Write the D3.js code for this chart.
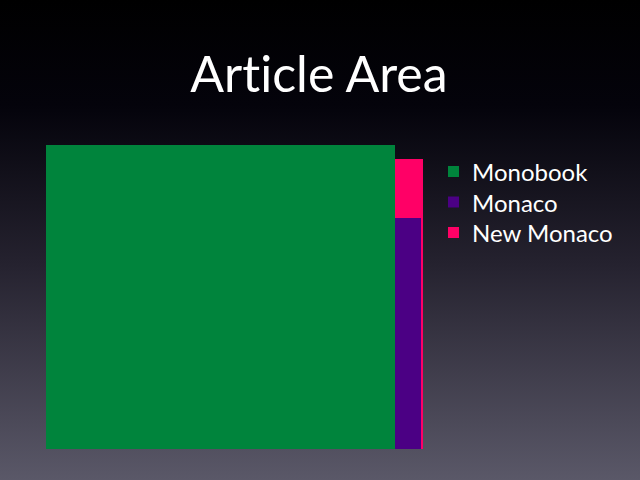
<!DOCTYPE html>
<html>
<head>
<meta charset="utf-8">
<script src="https://cdn.jsdelivr.net/npm/d3@7"></script>
<style>
  html, body { margin: 0; padding: 0; background: #000; }
  svg { display: block; }
  text { font-variant-ligatures: none; }
</style>
</head>
<body>
<svg id="chart" width="640" height="480"></svg>
<script>
'use strict';

// Article area per skin (width x height, in screen pixels)
const skins   = ['Monobook', 'Monaco', 'New Monaco'];
const widths  = [349, 375, 377];
const heights = [304, 231, 290];
const colors  = ['#00843c', '#4b0084', '#ff0066'];

// draw order: biggest footprint at the back, Monobook on top
const drawOrder = [2, 1, 0];

const svg = d3.select('#chart');
const W = 640, H = 480;

// background gradient, black at the top fading to slate grey
const defs = svg.append('defs');
const grad = defs.append('linearGradient').attr('id', 'bg')
  .attr('x1', 0).attr('y1', 0).attr('x2', 0).attr('y2', 1);
[[0, '#000000'], [0.22, '#04030b'], [0.55, '#25222f'], [1, '#5a5868']]
  .forEach(([o, c]) => grad.append('stop').attr('offset', o).attr('stop-color', c));
svg.append('rect').attr('width', W).attr('height', H).attr('fill', 'url(#bg)');

// plot box: origin at bottom-left
const left = 46, bottom = 449;
const x = d3.scaleLinear().domain([0, 377]).range([left, left + 377]);
const y = d3.scaleLinear().domain([0, 304]).range([bottom, bottom - 304]);

svg.append('g')
  .selectAll('rect')
  .data(drawOrder)
  .join('rect')
    .attr('x', x(0))
    .attr('y', i => y(heights[i]))
    .attr('width', i => x(widths[i]) - x(0))
    .attr('height', i => y(0) - y(heights[i]))
    .attr('fill', i => colors[i]);

// title
svg.append('text')
  .attr('x', 319).attr('y', 92)
  .attr('text-anchor', 'middle')
  .attr('fill', '#ffffff')
  .style('font-family', '"Lato", "Open Sans", sans-serif')
  .style('font-size', '50px')
  .text('Article Area');

// legend
const legend = svg.append('g').attr('transform', 'translate(448,172)');
const row = legend.selectAll('g')
  .data(skins)
  .join('g')
    .attr('transform', (d, i) => `translate(0,${i * 30.5})`);

row.append('rect')
  .attr('x', 0).attr('y', -6)
  .attr('width', 11).attr('height', 11)
  .attr('fill', (d, i) => colors[i]);

row.append('text')
  .attr('x', 24).attr('y', 9)
  .attr('fill', '#ffffff')
  .style('font-family', '"Lato", "Open Sans", sans-serif')
  .style('font-size', '24px')
  .text(d => d);
</script>
</body>
</html>
